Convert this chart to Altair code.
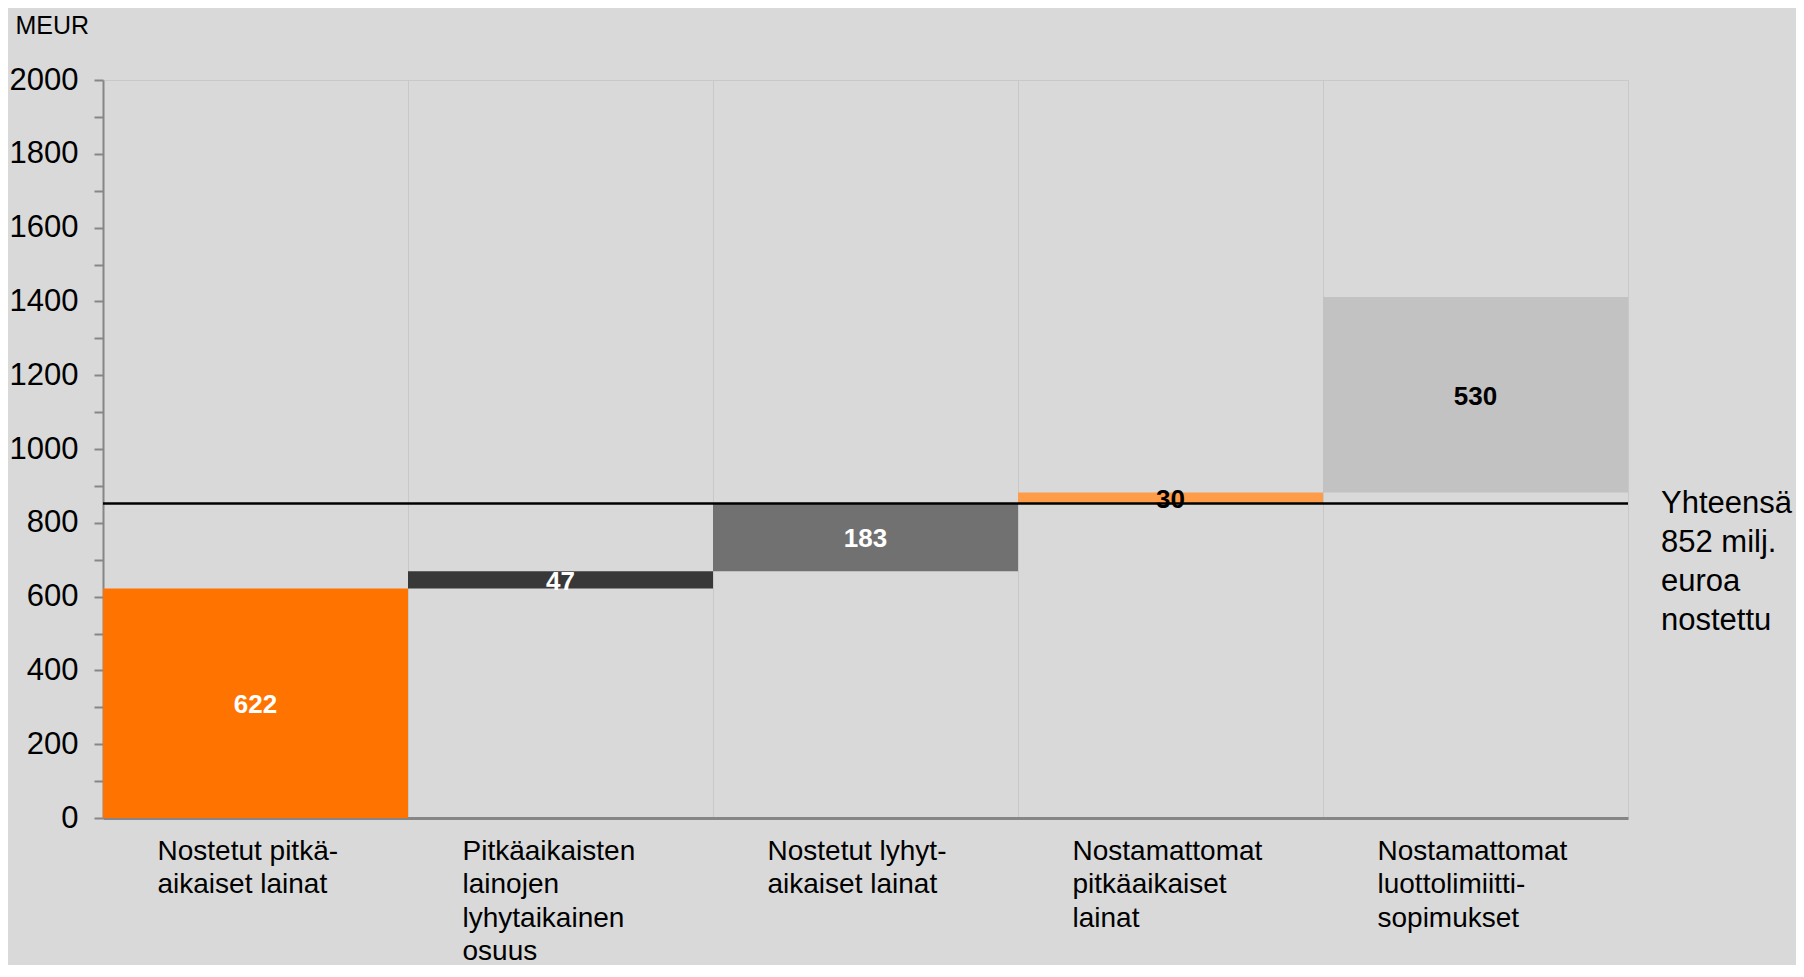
import altair as alt
import pandas as pd

# ---- data ----
categories = [
    "Nostetut pitkä-|aikaiset lainat",
    "Pitkäaikaisten|lainojen|lyhytaikainen|osuus",
    "Nostetut lyhyt-|aikaiset lainat",
    "Nostamattomat|pitkäaikaiset|lainat",
    "Nostamattomat|luottolimiitti-|sopimukset",
]
values = [622, 47, 183, 30, 530]
drawn = [True, True, True, False, False]
bar_colors = ["#FF7300", "#383838", "#717171", "#FF9C4A", "#C2C2C2"]

FONT = "Liberation Sans"

ends = pd.Series(values).cumsum()
starts = ends - pd.Series(values)
df = pd.DataFrame({
    "cat": categories,
    "value": values,
    "start": starts,
    "end": ends,
    "mid": (starts + ends) / 2,
    "drawn": drawn,
})
total = int(sum(v for v, d in zip(values, drawn) if d))
df_total = pd.DataFrame({
    "total": [total],
    "note": [f"Yhteensä\n{total} milj.\neuroa\nnostettu"],
})

y_scale = alt.Scale(domain=[0, 2000], nice=False, zero=True)
y_axis = alt.Axis(
    values=list(range(0, 2001, 100)),
    format="d",
    labelExpr="datum.value % 200 == 0 ? datum.label : ''",
    labelFont=FONT, labelFontSize=31, labelColor="black", labelPadding=16,
    tickColor="#868686", tickWidth=2, tickSize=9,
    domainColor="#868686", domainWidth=2,
    grid=False,
    title="MEUR", titleAngle=0, titleX=-88, titleY=-47,
    titleAlign="left", titleBaseline="alphabetic",
    titleFont=FONT, titleFontSize=25, titleFontWeight="normal", titleColor="black",
)
x_enc = alt.X(
    "cat:N", sort=categories,
    scale=alt.Scale(paddingInner=0, paddingOuter=0),
    axis=alt.Axis(
        title=None, labelAngle=0,
        labelExpr="split(datum.label, '|')",
        labelAlign="left", labelBaseline="top", labelOffset=-98,
        labelFont=FONT, labelFontSize=28, labelLineHeight=33.5,
        labelColor="black", labelPadding=19, labelLimit=500,
        bandPosition=0, grid=True, gridColor="#C8C8C8", gridWidth=1,
        ticks=False, domainColor="#868686", domainWidth=3,
    ),
)

bars = alt.Chart(df).mark_bar().encode(
    x=x_enc,
    y=alt.Y("start:Q", scale=y_scale, axis=y_axis),
    y2="end:Q",
    color=alt.Color("cat:N", scale=alt.Scale(domain=categories, range=bar_colors), legend=None),
)

labels = alt.Chart(df).mark_text(
    font=FONT, fontSize=26, fontWeight="bold", align="center", baseline="middle", dy=2
).encode(
    x=x_enc,
    y=alt.Y("mid:Q", scale=y_scale, axis=y_axis),
    text="value:Q",
    color=alt.condition(alt.datum.drawn, alt.value("white"), alt.value("black")),
)

rule = alt.Chart(df_total).mark_rule(color="black", strokeWidth=2.5).encode(
    y=alt.Y("total:Q", scale=y_scale, axis=y_axis),
)

note = alt.Chart(df_total).mark_text(
    font=FONT, fontSize=31, align="left", baseline="middle",
    lineBreak="\n", lineHeight=39, color="black",
).encode(
    x=alt.value(1558),
    y=alt.Y("total:Q", scale=y_scale, axis=y_axis),
    text="note:N",
)

chart = alt.layer(bars, rule, labels, note).properties(
    width=1525, height=738,
    background="#D9D9D9",
    autosize=alt.AutoSizeParams(type="none"),
    padding={"left": 95, "top": 72, "right": 168, "bottom": 147},
).configure_view(stroke="#C8C8C8", strokeWidth=1)

chart.save("out.html", embed_options={"renderer": "svg", "actions": False})
